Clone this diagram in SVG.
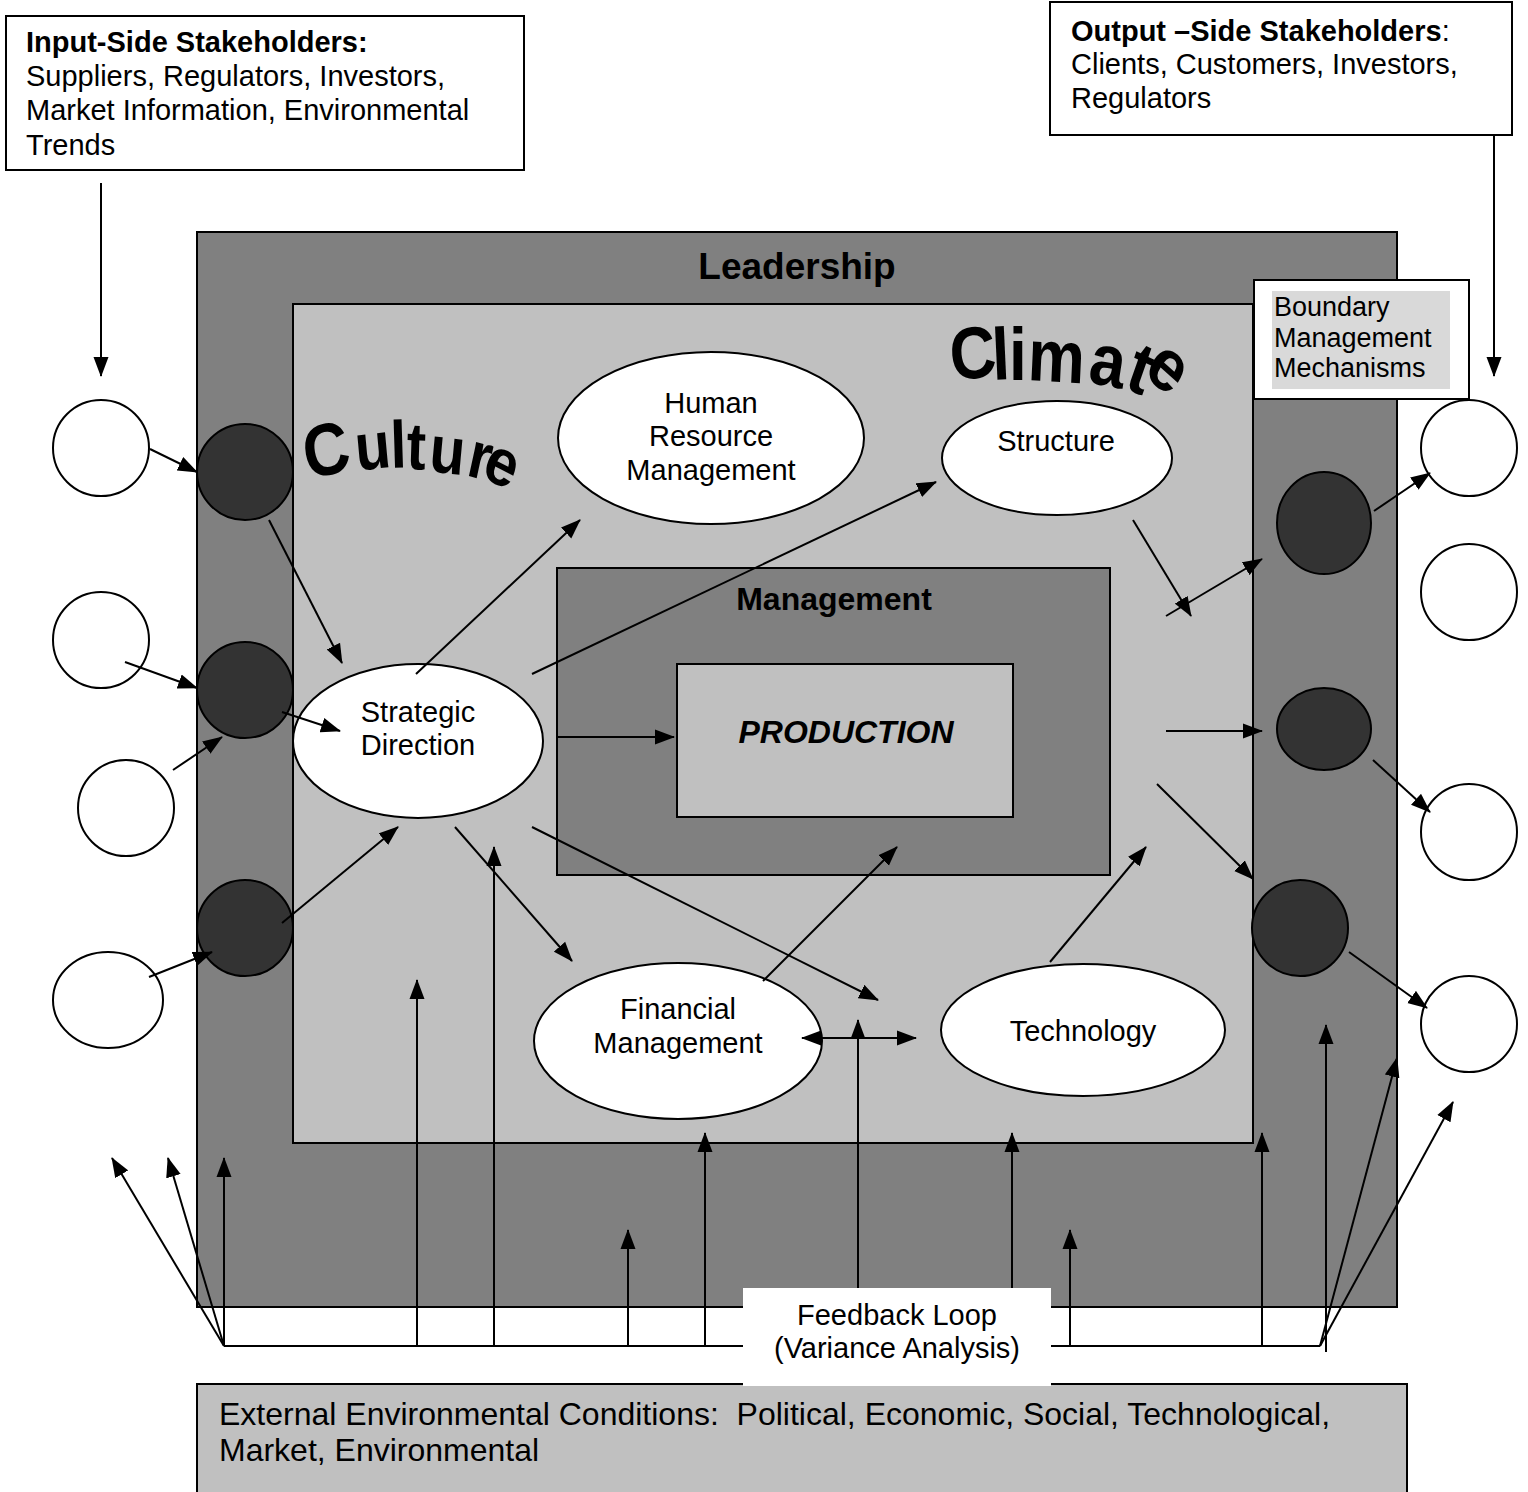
<svg xmlns="http://www.w3.org/2000/svg" width="1528" height="1492" viewBox="0 0 1528 1492">
  <defs>
    <marker id="ah" markerUnits="userSpaceOnUse" markerWidth="20" markerHeight="16" refX="19" refY="8" orient="auto-start-reverse">
      <path d="M0,0.5 L20,8 L0,15.5 z" fill="#000"/>
    </marker>
    <style>
      text { font-family: "Liberation Sans", Arial, sans-serif; fill: #000; }
      .t29 { font-size: 29px; }
      .t27 { font-size: 27px; }
      .b { font-weight: bold; }
      .mid { text-anchor: middle; }
      .box { fill: #fff; stroke: #000; stroke-width: 2; }
      .outer { fill: #808080; stroke: #000; stroke-width: 2; }
      .light { fill: #c0c0c0; stroke: #000; stroke-width: 2; }
      .node { fill: #fff; stroke: #000; stroke-width: 2; }
      .port { fill: #333; stroke: #000; stroke-width: 2; }
      .wa { font-weight: bold; }
      #connectors line { stroke: #000; stroke-width: 2; fill: none; }
      .arr { marker-end: url(#ah); }
    </style>
  </defs>

  <!-- background -->
  <rect x="0" y="0" width="1528" height="1492" fill="#fff"/>

  <!-- stakeholder boxes -->
  <g id="input-stakeholders">
    <rect class="box" x="6" y="16" width="518" height="154"/>
    <text class="t29" x="26" y="52"><tspan class="b">Input-Side Stakeholders:</tspan></text>
    <text class="t29" x="26" y="86">Suppliers, Regulators, Investors,</text>
    <text class="t29" x="26" y="120">Market Information, Environmental</text>
    <text class="t29" x="26" y="155">Trends</text>
  </g>
  <g id="output-stakeholders">
    <rect class="box" x="1050" y="2" width="462" height="133"/>
    <text class="t29" x="1071" y="41"><tspan class="b">Output –Side Stakeholders</tspan>:</text>
    <text class="t29" x="1071" y="74">Clients, Customers, Investors,</text>
    <text class="t29" x="1071" y="108">Regulators</text>
  </g>

  <!-- nested organisation layers -->
  <g id="leadership">
    <rect class="outer" x="197" y="232" width="1200" height="1075"/>
    <text class="b mid" style="font-size:37px" x="797" y="279">Leadership</text>
  </g>
  <g id="culture-climate">
    <rect class="light" x="293" y="304" width="960" height="839"/>
    <!-- arched word-art labels, one glyph at a time -->
    <text class="wa" style="font-size:58px" transform="scale(1,1.15)"
          x="308 357 391 406 428 465 480"
          y="417.4 409.6 407 407.8 409.6 413 413.9"
          rotate="-12 -6 -2 2 6 14 24"><tspan style="font-size:64px">C</tspan>ulture</text>
    <text class="wa" style="font-size:64px" transform="scale(1,1.15)"
          x="952 993 1009 1027 1087 1123 1142"
          y="331.3 330.4 330.4 330.4 332.2 336.5 324.3"
          rotate="-6 -3 0 3 10 22 38">Climate</text>
  </g>
  <g id="management">
    <rect class="outer" x="557" y="568" width="553" height="307"/>
    <text class="b mid" style="font-size:32px" x="834" y="610">Management</text>
  </g>
  <g id="production">
    <rect class="light" x="677" y="664" width="336" height="153"/>
    <text class="b mid" style="font-size:32px;font-style:italic" x="846" y="743">PRODUCTION</text>
  </g>
  <g id="boundary-management">
    <rect class="box" x="1254" y="280" width="215" height="119"/>
    <rect x="1272" y="291" width="178" height="98" fill="#d9d9d9"/>
    <text class="t27" x="1274" y="316">Boundary</text>
    <text class="t27" x="1274" y="347">Management</text>
    <text class="t27" x="1274" y="377">Mechanisms</text>
  </g>

  <!-- functions -->
  <g id="hrm">
    <ellipse class="node" cx="711" cy="438" rx="153" ry="86"/>
    <text class="t29 mid" x="711" y="413">Human</text>
    <text class="t29 mid" x="711" y="446">Resource</text>
    <text class="t29 mid" x="711" y="480">Management</text>
  </g>
  <g id="structure">
    <ellipse class="node" cx="1057" cy="458" rx="115" ry="57"/>
    <text class="t29 mid" x="1056" y="451">Structure</text>
  </g>
  <g id="strategic-direction">
    <ellipse class="node" cx="418" cy="741" rx="125" ry="77"/>
    <text class="t29 mid" x="418" y="722">Strategic</text>
    <text class="t29 mid" x="418" y="755">Direction</text>
  </g>
  <g id="financial-management">
    <ellipse class="node" cx="678" cy="1041" rx="144" ry="78"/>
    <text class="t29 mid" x="678" y="1019">Financial</text>
    <text class="t29 mid" x="678" y="1053">Management</text>
  </g>
  <g id="technology">
    <ellipse class="node" cx="1083" cy="1030" rx="142" ry="66"/>
    <text class="t29 mid" x="1083" y="1041">Technology</text>
  </g>

  <!-- input-side stakeholders and boundary ports -->
  <g id="in-1"><circle class="node" cx="101" cy="448" r="48"/></g>
  <g id="in-2"><circle class="node" cx="101" cy="640" r="48"/></g>
  <g id="in-3"><circle class="node" cx="126" cy="808" r="48"/></g>
  <g id="in-4"><ellipse class="node" cx="108" cy="1000" rx="55" ry="48"/></g>
  <g id="in-port-1"><circle class="port" cx="245" cy="472" r="48"/></g>
  <g id="in-port-2"><circle class="port" cx="245" cy="690" r="48"/></g>
  <g id="in-port-3"><circle class="port" cx="245" cy="928" r="48"/></g>

  <!-- output-side boundary ports and stakeholders -->
  <g id="out-port-1"><ellipse class="port" cx="1324" cy="523" rx="47" ry="51"/></g>
  <g id="out-port-2"><ellipse class="port" cx="1324" cy="729" rx="47" ry="41"/></g>
  <g id="out-port-3"><circle class="port" cx="1300" cy="928" r="48"/></g>
  <g id="out-1"><circle class="node" cx="1469" cy="448" r="48"/></g>
  <g id="out-2"><circle class="node" cx="1469" cy="592" r="48"/></g>
  <g id="out-3"><circle class="node" cx="1469" cy="832" r="48"/></g>
  <g id="out-4"><circle class="node" cx="1469" cy="1024" r="48"/></g>

  <!-- external environment -->
  <g id="external-environment">
    <rect class="light" x="197" y="1384" width="1210" height="120"/>
    <text style="font-size:32px" x="219" y="1425" xml:space="preserve">External Environmental Conditions:  Political, Economic, Social, Technological,</text>
    <text style="font-size:32px" x="219" y="1461">Market, Environmental</text>
  </g>

  <g id="connectors">
    <!-- stakeholder feeds -->
    <line class="arr" x1="101" y1="183" x2="101" y2="376"/>
    <line class="arr" x1="1494" y1="135" x2="1494" y2="376"/>

    <!-- input side -->
    <line class="arr" x1="150" y1="449" x2="197" y2="472"/>
    <line class="arr" x1="269" y1="520" x2="342" y2="663"/>
    <line class="arr" x1="125" y1="662" x2="197" y2="688"/>
    <line class="arr" x1="173" y1="770" x2="222" y2="737"/>
    <line class="arr" x1="282" y1="712" x2="340" y2="731"/>
    <line class="arr" x1="149" y1="977" x2="212" y2="952"/>
    <line class="arr" x1="282" y1="923" x2="398" y2="827"/>

    <!-- strategic direction outward -->
    <line class="arr" x1="416" y1="674" x2="580" y2="520"/>
    <line class="arr" x1="532" y1="674" x2="936" y2="482"/>
    <line class="arr" x1="557" y1="737" x2="674" y2="737"/>
    <line class="arr" x1="455" y1="827" x2="572" y2="961"/>
    <line class="arr" x1="532" y1="827" x2="878" y2="1000"/>
    <line class="arr" x1="763" y1="981" x2="897" y2="847"/>
    <line class="arr" x1="802" y1="1038" x2="916" y2="1038" marker-start="url(#ah)"/>
    <line class="arr" x1="1050" y1="962" x2="1146" y2="847"/>

    <!-- output side -->
    <line class="arr" x1="1133" y1="520" x2="1191" y2="616"/>
    <line class="arr" x1="1166" y1="616" x2="1262" y2="559"/>
    <line class="arr" x1="1166" y1="731" x2="1262" y2="731"/>
    <line class="arr" x1="1157" y1="784" x2="1253" y2="879"/>
    <line class="arr" x1="1374" y1="511" x2="1430" y2="473"/>
    <line class="arr" x1="1373" y1="760" x2="1430" y2="812"/>
    <line class="arr" x1="1349" y1="952" x2="1427" y2="1008"/>

    <!-- feedback loop -->
    <line x1="224" y1="1346" x2="743" y2="1346"/>
    <line x1="1051" y1="1346" x2="1320" y2="1346"/>
    <line class="arr" x1="224" y1="1346" x2="112" y2="1158"/>
    <line class="arr" x1="224" y1="1346" x2="168" y2="1158"/>
    <line class="arr" x1="224" y1="1346" x2="224" y2="1158"/>
    <line class="arr" x1="417" y1="1346" x2="417" y2="980"/>
    <line class="arr" x1="494" y1="1346" x2="494" y2="847"/>
    <line class="arr" x1="628" y1="1346" x2="628" y2="1230"/>
    <line class="arr" x1="705" y1="1346" x2="705" y2="1133"/>
    <line class="arr" x1="858" y1="1288" x2="858" y2="1020"/>
    <line class="arr" x1="1012" y1="1288" x2="1012" y2="1133"/>
    <line class="arr" x1="1070" y1="1346" x2="1070" y2="1230"/>
    <line class="arr" x1="1262" y1="1346" x2="1262" y2="1133"/>
    <line class="arr" x1="1326" y1="1352" x2="1326" y2="1025"/>
    <line class="arr" x1="1320" y1="1346" x2="1397" y2="1058"/>
    <line class="arr" x1="1320" y1="1346" x2="1453" y2="1102"/>
  </g>

  <g id="feedback-loop">
    <rect x="743" y="1288" width="308" height="98" fill="#fff"/>
    <text class="t29 mid" x="897" y="1325">Feedback Loop</text>
    <text class="t29 mid" x="897" y="1358">(Variance Analysis)</text>
  </g>
</svg>
